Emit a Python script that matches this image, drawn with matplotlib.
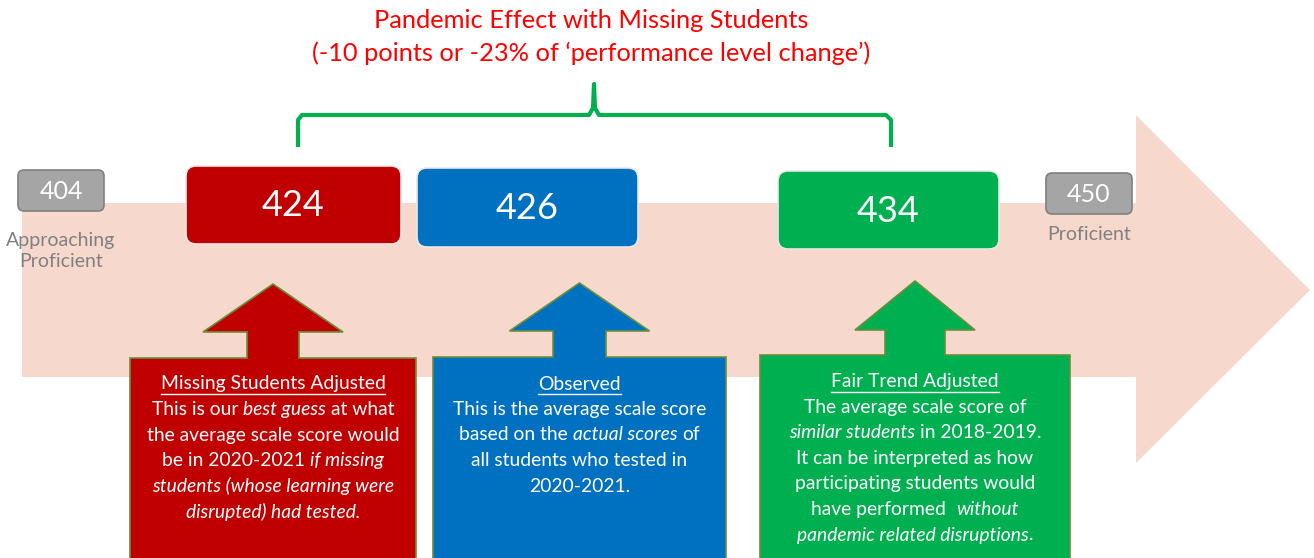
import matplotlib
matplotlib.use("Agg")
import matplotlib.pyplot as plt
from matplotlib.patches import FancyBboxPatch, Polygon

plt.rcParams['font.family'] = ['Lato', 'DejaVu Sans']

# data
scores = [404, 424, 426, 434, 450]
score_colors = ['#A5A5A5', '#C00000', '#0070C0', '#00B050', '#A5A5A5']
level_labels = ['Approaching\nProficient', 'Proficient']
title_lines = ['Pandemic Effect with Missing Students',
               '(-10 points or -23% of \u2018performance level change\u2019)']
callout_titles = ['Missing Students Adjusted', 'Observed', 'Fair Trend Adjusted']
callout_colors = ['#C00000', '#0070C0', '#00B050']
# *...* marks italic parts
callout_texts = [
    ['This is our *best guess* at what',
     'the average scale score would',
     'be in 2020-2021 *if missing*',
     '*students (whose learning were*',
     '*disrupted) had tested.*'],
    ['This is the average scale score',
     'based on the *actual scores* of',
     'all students who tested in',
     '2020-2021.'],
    ['The average scale score of',
     '*similar students* in 2018-2019.',
     'It can be interpreted as how',
     'participating students would',
     'have performed  *without*',
     '*pandemic related disruptions*.'],
]

W, H = 1314, 558
fig = plt.figure(figsize=(W / 100, H / 100), dpi=100)
ax = fig.add_axes([0, 0, 1, 1])
ax.set_xlim(0, W)
ax.set_ylim(H, 0)
ax.axis('off')

# big background arrow
ax.add_patch(Polygon([(22, 203), (1136, 203), (1136, 115), (1310, 290),
                      (1136, 463), (1136, 377), (22, 377)],
                     closed=True, facecolor='#F7D8CD', edgecolor='none', zorder=1))

# score boxes (x0, y0, x1, y1)
score_boxes = [(18, 170, 104, 211), (186, 166, 401, 244), (417, 168, 638, 247),
               (778, 171, 999, 249), (1046, 173, 1132, 214)]
for (x0, y0, x1, y1), s, c in zip(score_boxes, scores, score_colors):
    small = c == '#A5A5A5'
    ax.add_patch(FancyBboxPatch((x0, y0), x1 - x0, y1 - y0,
                                boxstyle='round,pad=0,rounding_size=%d' % (6 if small else 10),
                                facecolor=c, edgecolor='#7F7F7F' if small else '#E8E8E8',
                                lw=1.2, zorder=3))
    ax.text((x0 + x1) / 2, (y0 + y1) / 2 + 1, str(s), color='white',
            fontsize=18 if small else 26, ha='center', va='center', zorder=4)

ax.text(61, 251, level_labels[0], color='#808080', fontsize=14, ha='center',
        va='center', linespacing=1.25, zorder=4)
ax.text(1089, 235, level_labels[1], color='#808080', fontsize=14, ha='center',
        va='center', zorder=4)

# title and bracket
ax.text(591, 21, title_lines[0], color='#FF0000', fontsize=18.3, ha='center', va='center')
ax.text(591, 53, title_lines[1], color='#FF0000', fontsize=18.3, ha='center', va='center')
ax.plot([298, 298, 302, 589, 593, 594, 595, 599, 886, 891, 891],
        [147, 120, 115, 115, 108, 84, 108, 115, 115, 120, 147],
        color='#00B050', lw=3, solid_capstyle='butt', zorder=2)

# callouts: (center x, tip y, head base y, box top y, head half, stem half, box half)
callouts = [(273, 284, 332, 358, 70, 26, 143),
            (579.5, 283, 331, 357, 70, 26.5, 146.5),
            (915, 281, 330, 355, 60, 30, 155)]
for (cx, ty, hy, by, hh, sh, bh), col in zip(callouts, callout_colors):
    pts = [(cx, ty), (cx + hh, hy), (cx + sh, hy), (cx + sh, by), (cx + bh, by),
           (cx + bh, 570), (cx - bh, 570), (cx - bh, by), (cx - sh, by),
           (cx - sh, hy), (cx - hh, hy)]
    ax.add_patch(Polygon(pts, closed=True, facecolor=col, edgecolor='#6B8E3A',
                         lw=1.2, zorder=3))

fig.canvas.draw()
renderer = fig.canvas.get_renderer()
FS = 13.9


def width(s, style='normal'):
    t = ax.text(0, 0, s, fontsize=FS, style=style)
    w = t.get_window_extent(renderer).width
    t.remove()
    return w


space_w = width('x x') - width('xx')


def mixed_line(cx, y, line):
    parts = line.split('*')
    segs = []
    total = 0
    for i, p in enumerate(parts):
        if not p:
            continue
        style = 'italic' if i % 2 else 'normal'
        lead = len(p) - len(p.lstrip(' '))
        trail = len(p) - len(p.rstrip(' '))
        core = p.strip(' ')
        w = width(core, style)
        segs.append((core, style, lead * space_w, w, trail * space_w))
        total += lead * space_w + w + trail * space_w
    x = cx - total / 2
    for core, style, lw_, w, tw in segs:
        x += lw_
        ax.text(x, y, core, fontsize=FS, style=style, color='white',
                ha='left', va='center', zorder=5)
        x += w + tw


line_tops = [384, 384, 382]
step = 25.5
for (cx, *_), title, lines, y0 in zip(callouts, callout_titles, callout_texts, line_tops):
    ax.text(cx, y0, title, fontsize=FS, color='white', ha='center', va='center', zorder=5)
    tw = width(title)
    ax.plot([cx - tw / 2, cx + tw / 2], [y0 + 10, y0 + 10], color='white', lw=1, zorder=5)
    for k, line in enumerate(lines):
        mixed_line(cx, y0 + step * (k + 1), line)

fig.savefig('out.png', dpi=100)
